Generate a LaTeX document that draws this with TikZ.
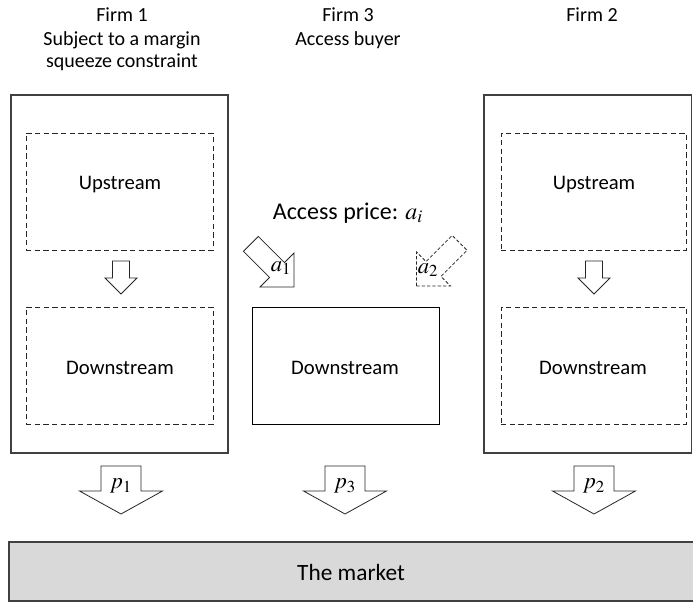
\documentclass[tikz,border=0pt]{standalone}
\usepackage{mathptmx}
\usepackage{fontspec}
\setmainfont{Carlito}
\definecolor{edge}{HTML}{404040}
\definecolor{marketbg}{HTML}{D9D9D9}
\usepackage{tikz}
\usetikzlibrary{fit,calc}
\tikzset{
  firmbox/.style={
    rectangle, draw=edge, line width=1pt,
    inner sep=0pt
  },
  stagebox/.style={
    rectangle, draw=black!85, line width=0.6pt,
    dash pattern=on 4pt off 2.5pt, inner sep=0pt
  },
  buyerbox/.style={
    rectangle, draw=black, line width=0.7pt, inner sep=0pt
  },
  marketbox/.style={
    rectangle, draw=edge, line width=1pt,
    fill=marketbg, inner sep=0pt
  },
  stagelbl/.style={font=\fontsize{15.5}{18}\selectfont, inner sep=1pt},
  title/.style={font=\fontsize{15}{18}\selectfont, inner sep=1pt},
  blockarr/.style={draw=black!85, fill=white, line width=0.6pt, line join=miter},
  mathlbl/.style={font=\fontsize{17}{20}\selectfont, inner sep=0pt},
}

\begin{document}
\begin{tikzpicture}[x=0.75pt, y=-0.75pt]

  \useasboundingbox (0,0) rectangle (693,603);

  % ── Column positions ─────────────────────────────────────────────────────────
  \def\colA{121}      % Firm 1
  \def\colC{345}      % Firm 3
  \def\colB{594}      % Firm 2

  % ── Headings ─────────────────────────────────────────────────────────────────
  \node[title] (t1) at (\colA+1,15) {Firm 1};
  \node[title] (s1a) at (\colA+1,40) {Subject to a margin};
  \node[title] (s1b) at (\colA+1,62) {squeeze constraint};
  \node[title] (t3) at (\colC+3,15) {Firm 3};
  \node[title] (s3) at (\colC+3,40) {Access buyer};
  \node[title] (t2) at (\colB-2,15) {Firm 2};

  % ── Firm 1 and Firm 2 (integrated) ───────────────────────────────────────────
  \node[firmbox, fit={(11,95) (228,453)}] (F1) {};
  \node[firmbox, fit={(484,95) (691.5,453)}] (F2) {};

  \node[stagebox, fit={(26,133) (213,250)}] (up1) {};
  \node[stagebox, fit={(26,307) (213,424)}] (down1) {};
  \node[stagebox, fit={(501,133) (686,250)}] (up2) {};
  \node[stagebox, fit={(501,307) (686,424)}] (down2) {};

  \node[stagelbl] (up1lbl) at (\colA-1,185) {Upstream};
  \node[stagelbl] (down1lbl) at (\colA-1,368) {Downstream};
  \node[stagelbl] (up2lbl) at (\colB,185) {Upstream};
  \node[stagelbl] (down2lbl) at (\colB-1,368) {Downstream};

  % internal supply
  \foreach \c in {\colA,\colB} {
    \draw[blockarr] (\c-8.5,261) -- (\c+8.5,261) -- (\c+8.5,278) -- (\c+16,278)
      -- (\c,294) -- (\c-16,278) -- (\c-8.5,278) -- cycle;
  }

  % ── Firm 3 (access buyer) ────────────────────────────────────────────────────
  \node[buyerbox, fit={(252,307) (439,424)}] (down3) {};
  \node[stagelbl] (down3lbl) at (\colC,368) {Downstream};

  \node[title, font=\fontsize{18}{21}\selectfont] (price) at (348,213)
    {Access price: $a_i$};

  % a_1 from Firm 1
  \begin{scope}[shift={(294,287)}, rotate=-45]
    \draw[blockarr] (0,0) -- (-24,24) -- (-24,10.5) -- (-61,10.5)
      -- (-61,-10.5) -- (-24,-10.5) -- (-24,-24) -- cycle;
  \end{scope}
  \node[mathlbl] (a1) at (281,268) {$a_1$};

  % a_2 from Firm 2
  \begin{scope}[shift={(416.5,286)}, rotate=-135]
    \draw[blockarr, dash pattern=on 2.5pt off 1.5pt] (0,0) -- (-24,24)
      -- (-24,10.5) -- (-61,10.5) -- (-61,-10.5) -- (-24,-10.5) -- (-24,-24) -- cycle;
  \end{scope}
  \node[mathlbl] (a2) at (428,270) {$a_2$};

  % ── Retail prices ────────────────────────────────────────────────────────────
  \foreach \c/\n in {\colA/1,\colC/3,\colB/2} {
    \draw[blockarr] (\c-20,466) -- (\c+20,466) -- (\c+20,491) -- (\c+41.5,491)
      -- (\c,514) -- (\c-41.5,491) -- (\c-20,491) -- cycle;
    \node[mathlbl] (p\n) at (\c,486) {$p_\n$};
  }

  % ── Market ───────────────────────────────────────────────────────────────────
  \node[marketbox, fit={(9,542) (698,601)}] (mkt) {};
  \node[font=\fontsize{17.5}{20}\selectfont] (mktlbl) at (351,572) {The market};

\end{tikzpicture}
\end{document}
